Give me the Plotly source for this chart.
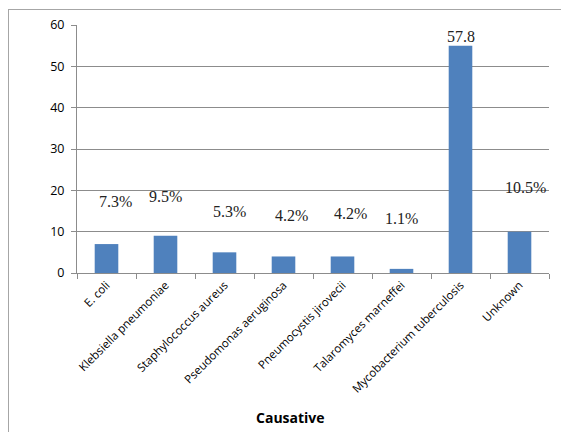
import plotly.graph_objects as go

categories = ["E. coli", "Klebsiella pneumoniae", "Staphylococcus aureus",
              "Pseudomonas aeruginosa", "Pneumocystis jirovecii",
              "Talaromyces marneffei", "Mycobacterium tuberculosis", "Unknown"]
values = [7, 9, 5, 4, 4, 1, 55, 10]
label_texts = ["7.3%", "9.5%", "5.3%", "4.2%", "4.2%", "1.1%", "57.8", "10.5%"]
y_ticks = [0, 10, 20, 30, 40, 50, 60]

# label placement (layout, not data)
label_y = [17.4, 18.4, 14.8, 14.0, 14.5, 13.3, 57.1, 20.8]
label_dx = [0.16, 0.0, 0.08, 0.13, 0.13, 0.0, 0.0, 0.11]

fig = go.Figure()
fig.add_trace(go.Bar(x=list(range(len(categories))), y=values,
                     marker=dict(color="#4F81BD", line=dict(width=0)),
                     width=0.4, hoverinfo="skip"))

for i, t in enumerate(label_texts):
    fig.add_annotation(x=i + label_dx[i], y=label_y[i], text=t, showarrow=False,
                       xref="x", yref="y", yanchor="middle", xanchor="center",
                       font=dict(family="Liberation Serif", size=16, color="#222222"))

grid = "#8C8C8C"
fig.update_xaxes(range=[-0.5, len(categories) - 0.5],
                 tickmode="array", tickvals=list(range(len(categories))),
                 ticktext=categories, tickangle=-45,
                 showline=True, linecolor=grid, linewidth=1,
                 showgrid=False, zeroline=False,
                 ticks="",
                 tickfont=dict(family="Open Sans", size=11.5, color="#000000"))
# boundary ticks as minor ticks
fig.update_xaxes(minor=dict(tickmode="array",
                            tickvals=[i - 0.5 for i in range(len(categories) + 1)],
                            ticks="outside", ticklen=5, tickcolor=grid, showgrid=False))
fig.update_yaxes(range=[0, 60], tickvals=y_ticks, showline=True, linecolor=grid,
                 linewidth=1, showgrid=True, gridcolor=grid, gridwidth=1,
                 zeroline=False, ticks="outside", ticklen=5, tickcolor=grid,
                 ticklabelstandoff=4,
                 tickfont=dict(family="Open Sans", size=12.5, color="#000000"))

fig.add_annotation(x=(290 - 77) / 472, y=(273 - 417) / 248, xref="paper", yref="paper",
                   text="<b>Causative</b>", showarrow=False, xanchor="center",
                   yanchor="middle",
                   font=dict(family="Open Sans", size=14, color="#000000"))

border = "#A6A6A6"
fig.add_shape(type="line", xref="paper", yref="paper",
              x0=(8 - 77) / 472, x1=(561 - 77) / 472,
              y0=(273 - 9.5) / 248, y1=(273 - 9.5) / 248,
              line=dict(color=border, width=1))
fig.add_shape(type="line", xref="paper", yref="paper",
              x0=(8.5 - 77) / 472, x1=(8.5 - 77) / 472,
              y0=(273 - 9.5) / 248, y1=(273 - 440) / 248,
              line=dict(color=border, width=1))

fig.update_layout(width=561, height=432, showlegend=False,
                  margin=dict(l=77, r=12, t=25, b=159),
                  plot_bgcolor="white", paper_bgcolor="white", bargap=0.6)
fig.write_html("out.html")
